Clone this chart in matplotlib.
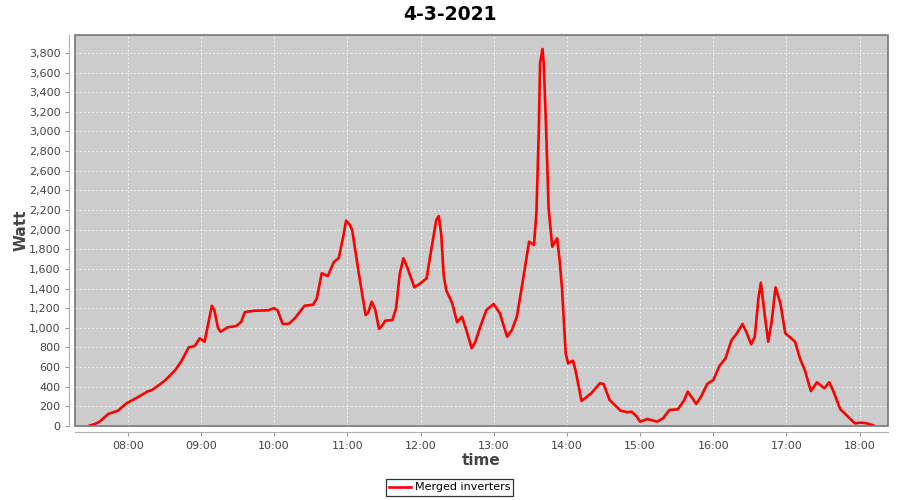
import numpy as np
import matplotlib
matplotlib.use('Agg')
import matplotlib.pyplot as plt
import matplotlib.dates as mdates
from matplotlib.ticker import FuncFormatter, MultipleLocator
from matplotlib.patches import Rectangle
import pandas as pd

title = '4-3-2021'
series_name = 'Merged inverters'

times = ['07:29', '07:33', '07:37', '07:44', '07:47', '07:52', '07:59', '08:09', '08:16', '08:20',
         '08:26', '08:31', '08:39', '08:44', '08:50', '08:55', '08:59', '09:03', '09:07', '09:09',
         '09:11', '09:14', '09:16', '09:22', '09:29', '09:33', '09:36', '09:44', '09:55', '10:00',
         '10:03', '10:07', '10:12', '10:17', '10:25', '10:32', '10:35', '10:39', '10:44', '10:49',
         '10:53', '10:57', '10:59', '11:02', '11:04', '11:09', '11:15', '11:17', '11:20', '11:23',
         '11:26', '11:29', '11:31', '11:37', '11:40', '11:43', '11:46', '11:49', '11:55', '12:00',
         '12:05', '12:09', '12:13', '12:15', '12:17', '12:19', '12:21', '12:26', '12:30', '12:34',
         '12:38', '12:42', '12:45', '12:49', '12:54', '13:00', '13:05', '13:11', '13:15', '13:19',
         '13:24', '13:29', '13:33', '13:35', '13:37', '13:38', '13:40', '13:41', '13:43', '13:45',
         '13:48', '13:52', '13:54', '13:56', '13:59', '14:01', '14:05', '14:07', '14:12', '14:20',
         '14:27', '14:30', '14:35', '14:44', '14:50', '14:53', '14:57', '15:00', '15:06', '15:14',
         '15:19', '15:24', '15:31', '15:36', '15:39', '15:43', '15:46', '15:50', '15:55', '16:00',
         '16:05', '16:10', '16:15', '16:19', '16:24', '16:27', '16:31', '16:34', '16:37', '16:39',
         '16:42', '16:45', '16:48', '16:51', '16:55', '16:59', '17:03', '17:07', '17:11', '17:15',
         '17:20', '17:25', '17:31', '17:35', '17:38', '17:44', '17:49', '17:56', '18:01', '18:06',
         '18:11']
watts = [5, 20, 44, 122, 135, 156, 231, 298, 350, 367,
         420, 468, 570, 660, 801, 815, 893, 858, 1100, 1225,
         1180, 1000, 960, 1005, 1018, 1060, 1160, 1174, 1178, 1200,
         1175, 1039, 1040, 1097, 1225, 1235, 1300, 1555, 1527, 1670,
         1710, 1950, 2091, 2050, 1996, 1589, 1130, 1150, 1266, 1180,
         988, 1030, 1072, 1079, 1200, 1550, 1708, 1620, 1412, 1453,
         1504, 1810, 2100, 2138, 1950, 1538, 1385, 1249, 1056, 1113,
         960, 791, 860, 1011, 1181, 1242, 1148, 909, 980, 1113,
         1487, 1877, 1843, 2166, 3014, 3693, 3840, 3693, 3014, 2217,
         1826, 1911, 1690, 1400, 740, 638, 665, 570, 255, 333,
         435, 428, 265, 156, 140, 146, 100, 44, 71, 44,
         80, 163, 170, 260, 349, 280, 224, 300, 428, 468,
         611, 689, 876, 937, 1039, 960, 832, 909, 1300, 1459,
         1148, 858, 1079, 1412, 1249, 944, 903, 858, 689, 570,
         356, 445, 384, 445, 367, 173, 112, 27, 34, 27,
         7]

day = '2021-03-04 '
t = pd.to_datetime([day + s for s in times])

fig = plt.figure(figsize=(9, 5), dpi=100)
ax = fig.add_axes([75 / 900, 1 - 426 / 500, 813 / 900, 391 / 500])
ax.set_facecolor('#cccccc')

ax.plot(t, watts, color='#ff0000', lw=1.9, label=series_name, solid_joinstyle='round')

ax.set_xlim(pd.Timestamp(day + '07:16:48'), pd.Timestamp(day + '18:23:12'))
ax.set_ylim(0, 3982)

ax.xaxis.set_major_locator(mdates.HourLocator())
ax.xaxis.set_major_formatter(mdates.DateFormatter('%H:%M'))
ax.yaxis.set_major_locator(MultipleLocator(200))
ax.yaxis.set_major_formatter(FuncFormatter(lambda v, p: '{:,.0f}'.format(v)))

# jfreechart-like dashed white grid
ax.grid(True, color='#f4f4f4', ls=(0, (2.5, 2.5)), lw=0.6)
ax.set_axisbelow(True)

for s in ['top', 'right']:
    ax.spines[s].set_visible(False)
for s in ['left', 'bottom']:
    ax.spines[s].set_position(('outward', 4))
    ax.spines[s].set_color('#b0b0b0')
ax.add_patch(Rectangle((0, 0), 1, 1, transform=ax.transAxes, fill=False,
                       edgecolor='#777777', lw=1.2, clip_on=False, zorder=5))

ax.tick_params(axis='both', colors='#999999', labelcolor='#444444', labelsize=8, length=3, width=0.8)

ax.set_xlabel('time', fontsize=11, fontweight='bold', color='#444444', labelpad=2)
ax.set_ylabel('Watt', fontsize=11, fontweight='bold', color='#444444', labelpad=0)
fig.text(0.5, 0.972, title, ha='center', va='center', fontsize=13.5, fontweight='bold')

leg = fig.legend(loc='center', bbox_to_anchor=(449.5 / 900, 1 - 487.5 / 500), fontsize=8,
                 frameon=True, fancybox=False, edgecolor='black', handlelength=2,
                 handletextpad=0.3, borderpad=0.3, borderaxespad=0)
leg.get_frame().set_linewidth(0.9)

fig.savefig('out.png', dpi=100)
